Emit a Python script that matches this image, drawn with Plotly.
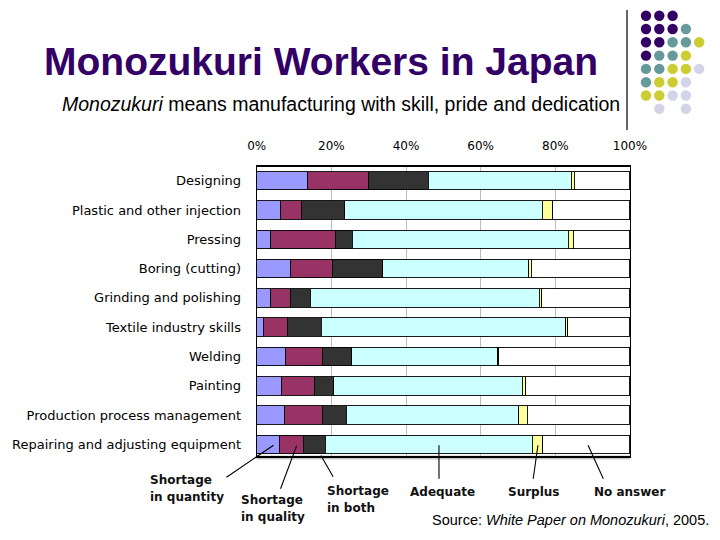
import plotly.graph_objects as go

W, H = 720, 540
PAGE_OFFSET = 8  # the page body adds an 8px margin around the figure

categories = [
    "Designing",
    "Plastic and other injection",
    "Pressing",
    "Boring (cutting)",
    "Grinding and polishing",
    "Textile industry skills",
    "Welding",
    "Painting",
    "Production process management",
    "Repairing and adjusting equipment",
]
shortage_quantity = [13.6, 6.5, 3.8, 9.1, 3.8, 1.8, 7.8, 6.6, 7.5, 6.0]
shortage_quality = [16.3, 5.6, 17.4, 11.1, 5.3, 6.4, 9.8, 9.0, 10.1, 6.5]
shortage_both = [16.1, 11.5, 4.4, 13.5, 5.2, 9.1, 7.8, 5.1, 6.4, 5.8]
adequate = [38.2, 52.9, 57.9, 39.2, 61.4, 65.5, 39.2, 50.4, 46.2, 55.5]
surplus = [0.9, 2.8, 1.3, 0.6, 0.6, 0.5, 0.3, 1.0, 2.3, 2.8]
no_answer = [14.9, 20.7, 15.2, 26.5, 23.7, 16.7, 35.1, 27.9, 27.5, 23.4]

series_names = ["Shortage in quantity", "Shortage in quality", "Shortage in both",
                "Adequate", "Surplus", "No answer"]
series_values = [shortage_quantity, shortage_quality, shortage_both,
                 adequate, surplus, no_answer]
series_colors = ["#9999FF", "#993366", "#333333", "#CCFFFF", "#FFFF99", "#FFFFFF"]

tick_vals = [0, 20, 40, 60, 80, 100]
tick_text = ["0%", "20%", "40%", "60%", "80%", "100%"]

# legend labels drawn under the chart (line 1, line 2)
legend_lines = [
    ["Shortage", "in quantity"],
    ["Shortage", "in quality"],
    ["Shortage", "in both"],
    ["Adequate"],
    ["Surplus"],
    ["No answer"],
]


def px(x):
    return (x - PAGE_OFFSET) / W


def py(y):
    return 1 - (y - PAGE_OFFSET) / H


fig = go.Figure()
for name, vals, col in zip(series_names, series_values, series_colors):
    fig.add_trace(go.Bar(
        y=categories, x=vals, name=name, orientation="h",
        marker=dict(color=col, line=dict(color="#000000", width=0.9)),
        width=0.63, showlegend=False, hoverinfo="x+name",
    ))

annotations = []
shapes = []

# Title / subtitle
annotations.append(dict(
    x=px(321), y=py(62), xref="paper", yref="paper", showarrow=False,
    text="<b>Monozukuri Workers in Japan</b>", xanchor="center", yanchor="middle",
    font=dict(family="Liberation Sans, Arial, sans-serif", size=39, color="#330066"),
))
annotations.append(dict(
    x=px(60), y=py(104), xref="paper", yref="paper", showarrow=False,
    text="<i>Monozukuri</i> means manufacturing with skill, pride and dedication",
    xanchor="left", yanchor="middle",
    font=dict(family="Liberation Sans, Arial, sans-serif", size=19.5, color="#000000"),
))
annotations.append(dict(
    x=px(430), y=py(520), xref="paper", yref="paper", showarrow=False,
    text="Source: <i>White Paper on Monozukuri</i>, 2005.",
    xanchor="left", yanchor="middle",
    font=dict(family="Liberation Sans, Arial, sans-serif", size=14.5, color="#000000"),
))

# Legend labels under chart
label_pos = [(148, 480), (239, 500), (325, 491), (442, 492), (534, 492), (592, 492)]
label_anchor = ["left", "left", "left", "center", "center", "left"]
for lines, (lx, ly), anc in zip(legend_lines, label_pos, label_anchor):
    for k, t in enumerate(lines):
        annotations.append(dict(
            x=px(lx), y=py(ly + 17 * k), xref="paper", yref="paper", showarrow=False,
            text="<b>" + t + "</b>", xanchor=anc, yanchor="middle",
            font=dict(family="DejaVu Sans, sans-serif", size=12, color="#111111"),
        ))

# Leader lines pointing to the last bar's segments
last = len(categories) - 1
starts = [0.0]
for vals in series_values[:-1]:
    starts.append(starts[-1] + vals[last])
fracs = [0.75, 0.72, 0.81, 0.55, 0.55, 0.52]
tip_y = [9.03, 9.05, 9.38, 9.03, 9.03, 9.03]
tails = [(225, 478), (280, 490), (334, 478), (439, 480), (533, 480), (604, 480)]
x0_px, x1_px = 256.7, 630.0
y_top_px, row_px, y0_idx = 166.7, 29.26, -0.48
for s, vals, f, ty, (tx, tyy) in zip(starts, series_values, fracs, tip_y, tails):
    xv = s + f * vals[last]
    tip_px_x = x0_px + xv / 100 * (x1_px - x0_px)
    tip_px_y = y_top_px + (ty - y0_idx) * row_px
    annotations.append(dict(
        x=xv, y=ty, xref="x", yref="y", text="", showarrow=True,
        ax=tx - tip_px_x, ay=tyy - tip_px_y, axref="pixel", ayref="pixel",
        arrowhead=0, arrowwidth=1.1, arrowcolor="#000000", standoff=0, startstandoff=0,
    ))

# Floor shadow under plot
shapes.append(dict(type="rect", xref="paper", yref="paper",
                   x0=px(256.7), x1=px(630), y0=py(459.5), y1=py(455.5),
                   fillcolor="#C8C8C8", line=dict(width=0), layer="below"))

# Decorative vertical line and dot pattern (top right)
shapes.append(dict(type="line", xref="paper", yref="paper",
                   x0=px(627), x1=px(627), y0=py(10), y1=py(130),
                   line=dict(color="#000000", width=1.2)))
dot_colors = {"P": "#330066", "T": "#669999", "Y": "#CCCC33", "L": "#D4D4E8", ".": None}
dot_rows = ["PPP..", "PPPT.", "PPTTY", "PTTY.", "TTYYL", "TYYL.", "YYLL.", ".L.L."]
dot_x0, dot_y0, dot_step, dot_r = 646, 15.7, 13.3, 5.2
for r, row in enumerate(dot_rows):
    for c, ch in enumerate(row):
        col = dot_colors[ch]
        if col is None:
            continue
        cx = dot_x0 + c * dot_step
        cy = dot_y0 + r * dot_step
        shapes.append(dict(type="circle", xref="paper", yref="paper",
                           x0=px(cx - dot_r), x1=px(cx + dot_r),
                           y0=py(cy + dot_r), y1=py(cy - dot_r),
                           fillcolor=col, line=dict(width=0)))

fig.update_layout(
    width=W, height=H, margin=dict(l=0, r=0, t=0, b=0, autoexpand=False),
    paper_bgcolor="#FFFFFF", plot_bgcolor="#FFFFFF",
    barmode="stack", bargap=0.37,
    annotations=annotations, shapes=shapes,
    xaxis=dict(
        domain=[px(256.7), px(630)], range=[0, 100], side="top",
        tickvals=tick_vals, ticktext=tick_text, ticks="",
        ticklabelstandoff=10, automargin=False,
        tickfont=dict(family="DejaVu Sans, sans-serif", size=12, color="#000000"),
        showgrid=True, gridcolor="#BBBBBB", gridwidth=1,
        showline=True, linecolor="#000000", linewidth=1.5, mirror=True,
        zeroline=False, fixedrange=True,
    ),
    yaxis=dict(
        domain=[py(455.5), py(166.7)], type="category",
        categoryorder="array", categoryarray=categories,
        range=[9.38, -0.48], ticks="", ticklabelstandoff=12, automargin=False,
        tickfont=dict(family="DejaVu Sans, sans-serif", size=13, color="#000000"),
        showgrid=False, showline=True, linecolor="#000000", linewidth=1.2,
        mirror=True, zeroline=False, fixedrange=True,
    ),
)

fig.write_html("out.html")
